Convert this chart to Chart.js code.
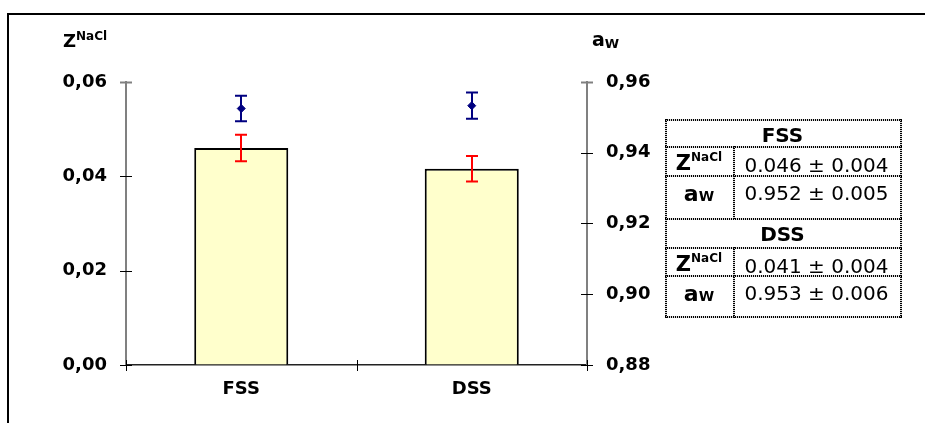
<!DOCTYPE html>
<html>
<head>
<meta charset="utf-8">
<script src="https://cdn.jsdelivr.net/npm/chart.js@4/dist/chart.umd.min.js"></script>
<style>
  html, body { margin: 0; padding: 0; background: #fff; }
  #wrap { position: relative; width: 925px; height: 423px; overflow: hidden; font-family: "DejaVu Sans", Verdana, sans-serif; }
  #c { position: absolute; left: 0; top: 0; }
  #frame { position: absolute; left: 7px; top: 13px; width: 1000px; height: 500px; border-top: 2px solid #000; border-left: 2px solid #000; }
  .t { position: absolute; font-weight: bold; color: #000; white-space: nowrap; line-height: 1; }
  .cell { position: absolute; box-sizing: border-box; color: #000; text-align: center; white-space: nowrap; line-height: 1; }
  .hdr { font-weight: bold; font-size: 20px; }
  .val { font-size: 20px; }
  .lab { font-weight: bold; }
  .hl { position: absolute; height: 2px; background: repeating-linear-gradient(90deg, #000 0 1px, rgba(0,0,0,0.15) 1px 2px); }
  .vl { position: absolute; width: 2px; background: repeating-linear-gradient(180deg, #000 0 1px, rgba(0,0,0,0.15) 1px 2px); }
</style>
</head>
<body>
<div id="wrap">
  <div id="frame"></div>
  <canvas id="c" width="925" height="423"></canvas>
  <div class="t" style="left:63px; top:32px;"><span style="font-size:18px;">Z</span><span style="font-size:12px; position:relative; top:-7px;">NaCl</span></div>
  <div class="t" style="left:592px; top:30px;"><span style="font-size:19px;">a</span><span style="font-size:13px; position:relative; top:2px;">W</span></div>
  <div id="tbl"></div>
</div>
<script>
const categories = ['FSS', 'DSS'];
const zNaCl = [0.046, 0.0416];
const zNaClErr = [0.0028, 0.0027];
const aw = [0.9525, 0.9533];
const awErr = [0.0036, 0.0037];
const zTicks = [0, 0.02, 0.04, 0.06];
const awTicks = [0.88, 0.90, 0.92, 0.94, 0.96];
const tableRows = [
  { group: 'FSS', z: '0.046 ± 0.004', a: '0.952 ± 0.005' },
  { group: 'DSS', z: '0.041 ± 0.004', a: '0.953 ± 0.006' }
];

// table overlay
(function () {
  const tbl = document.getElementById('tbl');
  const L = 665, R = 900, S = 733;
  const rowTops = [[119, 146, 175, 218], [218, 247, 275, 317]];
  let html = '';
  tableRows.forEach((r, i) => {
    const [t0, t1, t2, t3] = rowTops[i];
    html += `<div class="cell hdr" style="left:${L}px;top:${t0}px;width:${R-L}px;height:${t1-t0}px;padding-top:6px;">${r.group}</div>`;
    html += `<div class="cell lab" style="left:${L}px;top:${t1}px;width:${S-L}px;height:${t2-t1}px;padding-top:7px;"><span style="font-size:21px;">Z</span><span style="font-size:12px;position:relative;top:-9px;">NaCl</span></div>`;
    html += `<div class="cell val" style="left:${S}px;top:${t1}px;width:${R-S}px;height:${t2-t1}px;padding-top:9px;">${r.z}</div>`;
    html += `<div class="cell lab" style="left:${L}px;top:${t2}px;width:${S-L}px;height:${t3-t2}px;padding-top:8px;"><span style="font-size:22px;">a</span><span style="font-size:14px;">W</span></div>`;
    html += `<div class="cell val" style="left:${S}px;top:${t2}px;width:${R-S}px;height:${t3-t2}px;padding-top:8px;">${r.a}</div>`;
  });
  // dotted grid lines
  [119, 146, 175, 218, 247, 275, 316].forEach(y => {
    html += `<div class="hl" style="left:${L}px;top:${y}px;width:${R-L+2}px;"></div>`;
  });
  html += `<div class="vl" style="left:${L}px;top:119px;height:199px;"></div>`;
  html += `<div class="vl" style="left:${R}px;top:119px;height:199px;"></div>`;
  html += `<div class="vl" style="left:${S}px;top:146px;height:73px;"></div>`;
  html += `<div class="vl" style="left:${S}px;top:247px;height:71px;"></div>`;
  tbl.innerHTML = html;
})();

const fmt = v => v.toFixed(2).replace('.', ',');
const tickFont = { family: '"DejaVu Sans", Verdana, sans-serif', size: 18, weight: 'bold' };

const crossTicks = {
  id: 'crossTicks',
  afterDraw(chart) {
    const ctx = chart.ctx;
    const x = chart.scales.x, yL = chart.scales.yL, yR = chart.scales.yR;
    ctx.save();
    [[yL, zTicks, yL.right], [yR, awTicks, yR.left]].forEach(([sc, vals, ax]) => {
      vals.forEach((v, i) => {
        const y = Math.round(sc.getPixelForValue(v)) + 0.5;
        const top = i === vals.length - 1;
        ctx.strokeStyle = top ? '#808080' : '#000';
        ctx.lineWidth = top ? 2 : 1;
        ctx.beginPath();
        ctx.moveTo(ax - 6, y);
        ctx.lineTo(ax + 6, y);
        ctx.stroke();
      });
    });
    const yb = x.top;
    const xs = [x.left];
    for (let i = 0; i < categories.length - 1; i++) {
      xs.push((x.getPixelForTick(i) + x.getPixelForTick(i + 1)) / 2);
    }
    xs.push(x.right);
    ctx.strokeStyle = '#000';
    ctx.lineWidth = 1;
    xs.forEach(px => {
      const xx = Math.round(px) + 0.5;
      ctx.beginPath();
      ctx.moveTo(xx, yb - 5);
      ctx.lineTo(xx, yb + 6);
      ctx.stroke();
    });
    ctx.restore();
  }
};

const errorBars = {
  id: 'errorBars',
  afterDatasetsDraw(chart) {
    const ctx = chart.ctx;
    const x = chart.scales.x, yL = chart.scales.yL, yR = chart.scales.yR;
    const cap = 6;
    ctx.save();
    ctx.lineWidth = 2;
    const draw = (sc, vals, errs, color) => {
      ctx.strokeStyle = color;
      vals.forEach((v, i) => {
        const px = Math.round(x.getPixelForValue(i));
        const t = sc.getPixelForValue(v + errs[i]);
        const b = sc.getPixelForValue(v - errs[i]);
        ctx.beginPath();
        ctx.moveTo(px, t); ctx.lineTo(px, b);
        ctx.moveTo(px - cap, t); ctx.lineTo(px + cap, t);
        ctx.moveTo(px - cap, b); ctx.lineTo(px + cap, b);
        ctx.stroke();
      });
    };
    draw(yL, zNaCl, zNaClErr, '#ff0000');
    draw(yR, aw, awErr, '#000080');
    ctx.restore();
  }
};

new Chart(document.getElementById('c'), {
  type: 'bar',
  data: {
    labels: categories,
    datasets: [
      {
        type: 'bar',
        label: 'Z NaCl',
        data: zNaCl,
        yAxisID: 'yL',
        backgroundColor: '#FFFFCC',
        borderColor: '#000',
        borderWidth: 2,
        barPercentage: 0.408,
        categoryPercentage: 1,
        order: 2
      },
      {
        type: 'line',
        label: 'aw',
        data: aw,
        yAxisID: 'yR',
        showLine: false,
        pointStyle: 'rectRot',
        pointRadius: 4,
        pointBackgroundColor: '#000080',
        pointBorderColor: '#000080',
        borderColor: '#000080',
        order: 1
      }
    ]
  },
  options: {
    responsive: false,
    animation: false,
    layout: { padding: { top: 82, left: 0, right: 0, bottom: 0 } },
    plugins: { legend: { display: false }, tooltip: { enabled: false } },
    scales: {
      x: {
        type: 'category',
        offset: true,
        grid: { display: false, drawTicks: false },
        border: { display: true, color: '#222', width: 1.5 },
        ticks: { font: tickFont, color: '#000', padding: 14 },
        afterFit(s) { s.height = 58; }
      },
      yL: {
        position: 'left',
        min: 0, max: 0.06,
        afterBuildTicks(s) { s.ticks = zTicks.map(v => ({ value: v })); },
        ticks: { font: tickFont, color: '#000', padding: 19, callback: v => fmt(v) },
        grid: { drawOnChartArea: false, drawTicks: false },
        border: { display: true, color: '#808080', width: 2 },
        afterFit(s) { s.width = 126; }
      },
      yR: {
        position: 'right',
        min: 0.88, max: 0.96,
        afterBuildTicks(s) { s.ticks = awTicks.map(v => ({ value: v })); },
        ticks: { font: tickFont, color: '#000', padding: 19, callback: v => fmt(v) },
        grid: { drawOnChartArea: false, drawTicks: false },
        border: { display: true, color: '#808080', width: 2 },
        afterFit(s) { s.width = 338; }
      }
    }
  },
  plugins: [crossTicks, errorBars]
});
</script>
</body>
</html>
